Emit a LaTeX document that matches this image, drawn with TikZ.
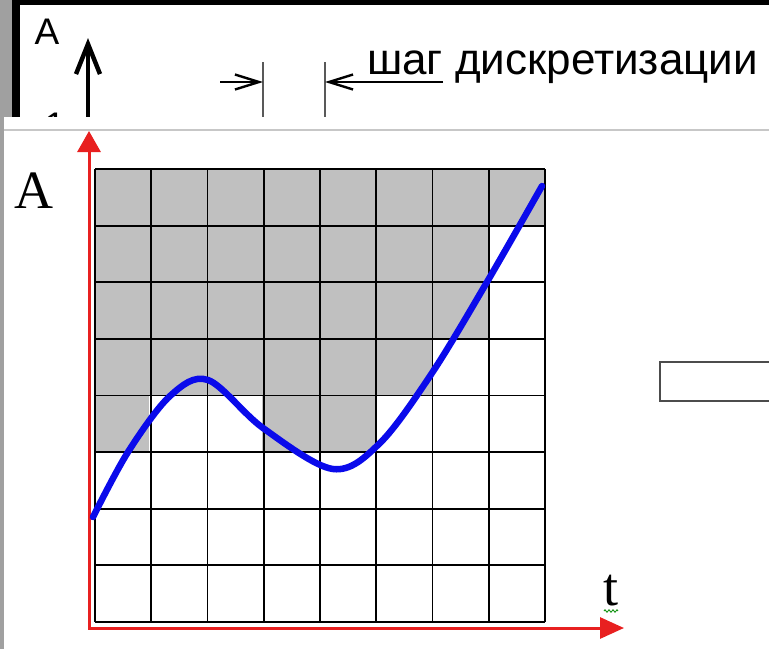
\documentclass[tikz,border=0pt]{standalone}
\usepackage{fontspec}
\setmainfont{Liberation Serif}
\newfontfamily\sansf{Liberation Sans}
\usetikzlibrary{arrows.meta,decorations.pathmorphing}
\definecolor{axred}{RGB}{232,32,32}
\definecolor{cellgrey}{RGB}{192,192,192}
\definecolor{stripgrey}{RGB}{160,160,160}
\definecolor{curveblue}{RGB}{10,10,235}
\tikzset{
  gridline/.style={line width=1.8pt, black},
  dimline/.style={line width=1.3pt, black!65},
  dimarrow/.style={line width=2pt, black, -{Straight Barb[length=24pt,width=15pt,line width=2.4pt]}},
  upaxis/.style={line width=4.2pt, black, -{Straight Barb[length=30pt,width=24pt,line width=4.5pt]}},
  redaxis/.style={line width=3pt, axred, {Triangle[length=21pt,width=23pt]}-{Triangle[length=24pt,width=21pt]}},
  curve/.style={line width=6.5pt, curveblue, line cap=round},
  sanslabel/.style={font=\sansf\fontsize{37}{42}\selectfont, inner sep=0pt},
  seriflabel/.style={font=\fontsize{54}{60}\selectfont, inner sep=0pt},
}
\begin{document}
\begin{tikzpicture}[x=1pt,y=-1pt]
\useasboundingbox (0,0) rectangle (769,649);
\clip (0,0) rectangle (769,649);
% backgrounds
\fill[black] (0,0) rectangle (769,649);
\fill[stripgrey] (0,0) rectangle (12,649);
\fill[white] (20,5) rectangle (769,117);
% upper slide fragment
\node[sanslabel] (Atop) at (47,32) {A};
\node[sanslabel, anchor=base] (one) at (55,138) {1};
\coordinate (upbase) at (88,130);
\coordinate (uptip) at (88,38);
\draw[upaxis] (upbase) -- (uptip);
\coordinate (d1t) at (263,62); \coordinate (d1b) at (263,120);
\coordinate (d2t) at (325,62); \coordinate (d2b) at (325,120);
\draw[dimline] (d1t) -- (d1b);
\draw[dimline] (d2t) -- (d2b);
\coordinate (la) at (220,82); \coordinate (lb) at (263,82);
\coordinate (ra) at (443,82); \coordinate (rb) at (325,82);
\draw[dimarrow] (la) -- (lb);
\draw[dimarrow] (ra) -- (rb);
\node[anchor=base west, font=\sansf\fontsize{44}{50}\selectfont, inner sep=0pt] (step-label) at (367,74) {шаг дискретизации};
% lower slide
\fill[stripgrey] (0,117) rectangle (4,649);
\fill[white] (4,117) rectangle (769,649);
\draw[line width=1.5pt, black!22] (4,130) -- (769,130);
% grey cells
\fill[cellgrey] (95,169) rectangle (545,226);
\fill[cellgrey] (95,226) rectangle (489,339);
\fill[cellgrey] (95,339) rectangle (432,395);
\fill[cellgrey] (95,395) rectangle (149,452);
\fill[cellgrey] (262,395) rectangle (376,452);
% grid
\foreach \i in {0,...,8} {
  \draw[gridline] ({95+56.25*\i},169) -- ({95+56.25*\i},622);
  \draw[gridline] (95,{169+56.625*\i}) -- (545,{169+56.625*\i});
}
% red axes
\coordinate (ytip) at (89,131);
\coordinate (origin) at (89,628);
\coordinate (xtip) at (624,628);
\draw[redaxis] (ytip) -- (origin) -- (xtip);
% curve
\draw[curve] plot[smooth, tension=0.55] coordinates {(93,517) (128,452) (170,396) (208,380) (263,428) (333,469) (380,443) (432,373) (487,282) (542,186)};
% labels
\node[seriflabel] (Alab) at (34,191) {A};
\node[seriflabel, anchor=base] (tlab) at (611,605) {t};
\draw[green!55!black, line width=0.8pt, decorate, decoration={zigzag, amplitude=1.3pt, segment length=4pt}] (604,611) -- (618,611);
% right box
\draw[line width=2.2pt, draw=black!70, fill=white] (660,362) rectangle (790,401);
\end{tikzpicture}
\end{document}
